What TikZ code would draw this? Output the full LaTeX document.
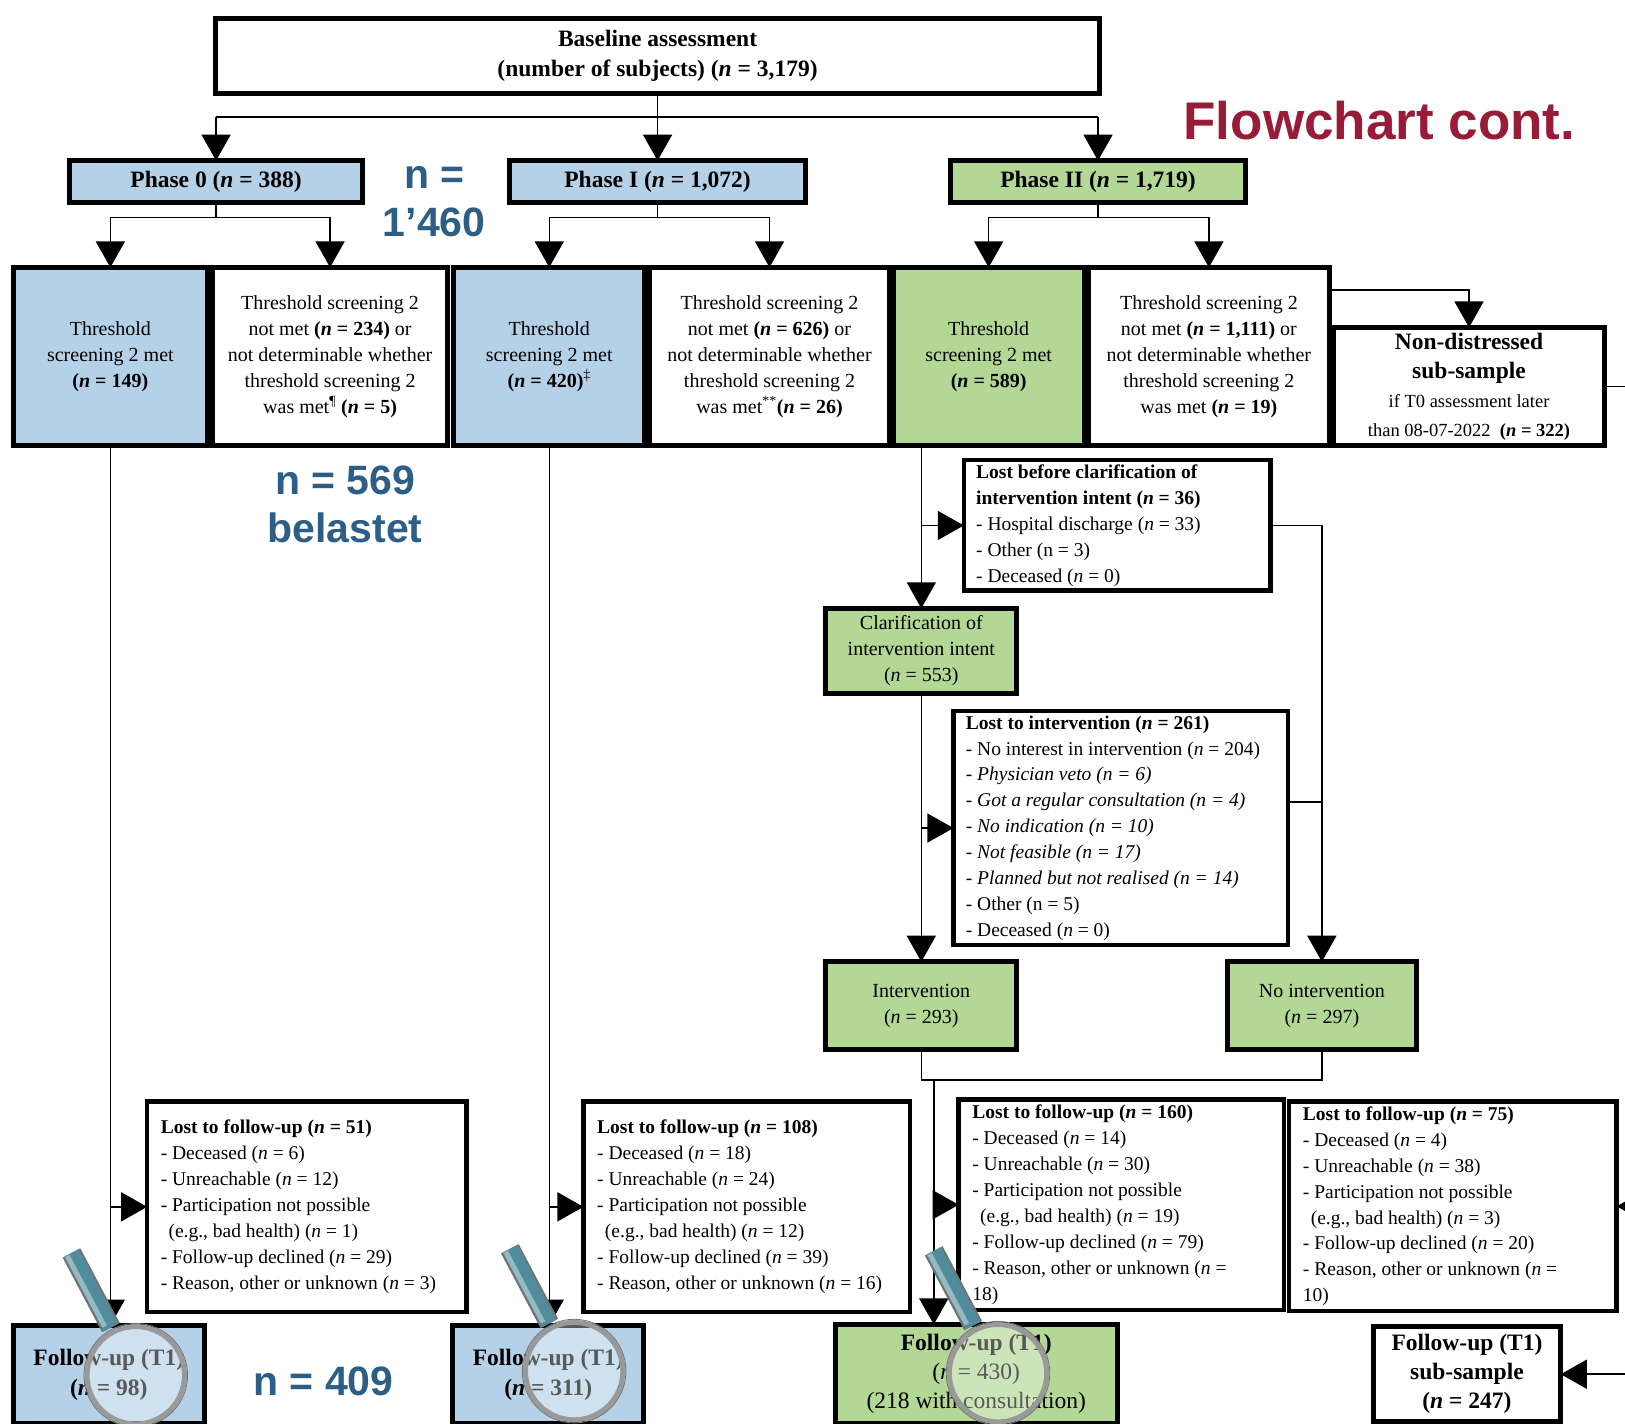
\documentclass[tikz,border=0pt]{standalone}
\usepackage{fontspec}
\setmainfont{Liberation Serif}
\newfontfamily\annfont{Liberation Sans}
\usetikzlibrary{arrows.meta}
\definecolor{boxblue}{RGB}{180,209,231}
\definecolor{boxgreen}{RGB}{179,215,148}
\definecolor{annblue}{RGB}{44,94,134}
\definecolor{annred}{RGB}{152,28,56}
\definecolor{handlecol}{RGB}{80,140,155}
\newcommand{\mglass}[2]{%
  \begin{scope}[shift={(#1,#2)}]
    \draw[line width=20pt, draw=black!55] (-24,-46) -- (-62,-118);
    \draw[line width=16pt, draw=handlecol] (-24,-46) -- (-62,-118);
    \draw[line width=5pt, draw=handlecol!60!white] (-30,-47) -- (-66,-115);
    \fill[white, opacity=0.35] (0,0) circle[radius=48];
    \draw[line width=5pt, draw=gray!80] (0,0) circle[radius=47];
    \draw[line width=0.8pt, draw=gray!90!black] (0,0) circle[radius=50];
  \end{scope}}
\begin{document}
\begin{tikzpicture}[x=1.03635pt, y=-1.03635pt,
  box/.style={draw, line width=5pt, inner sep=0pt, outer sep=0pt, align=center, font=\fontsize{20}{26}\selectfont},
  rect/.style n args={4}{at={({(#1+#3)/2},{(#2+#4)/2})}, minimum width={(#3-#1)*1.03635pt}, minimum height={(#4-#2)*1.03635pt}},
  head/.style={font=\bfseries\fontsize{23.5}{30}\selectfont},
  lost/.style={box, line width=4.5pt, align=flush left, font=\fontsize{19.5}{25.9}\selectfont},
  blue/.style={fill=boxblue},
  green/.style={fill=boxgreen},
  conn/.style={line width=1.5pt, draw=black},
  arr/.style={conn, -{Triangle[length=26pt,width=29pt]}},
  ann/.style={font=\annfont\bfseries\fontsize{41}{48}\selectfont, text=annblue, align=center}
]
\useasboundingbox (0,0) rectangle (1568,1374);

% top
\node[box, head, rect={208}{18}{1061}{90}] (BA) {Baseline assessment\\(number of subjects) (\textit{n} = 3,179)};
\node[box, head, blue, rect={67}{155}{350}{195}] (P0) {Phase 0 (\textit{n} = 388)};
\node[box, head, blue, rect={492}{155}{777}{195}] (P1) {Phase I (\textit{n} = 1,072)};
\node[box, head, green, rect={917}{155}{1202}{195}] (P2) {Phase II (\textit{n} = 1,719)};

% row
\node[box, blue, rect={13}{258}{200}{430}] (A0) {Threshold\\screening 2 met\\\textbf{(\textit{n} = 149)}};
\node[box, rect={205}{258}{432}{430}] (B0) {Threshold screening 2\\not met \textbf{(\textit{n} = 234)} or\\not determinable whether\\threshold screening 2\\was met\textsuperscript{\P} \textbf{(\textit{n} = 5)}};
\node[box, blue, rect={438}{258}{622}{430}] (A1) {Threshold\\screening 2 met\\\textbf{(\textit{n} = 420)}\textsuperscript{\ddag}};
\node[box, rect={627}{258}{858}{430}] (B1) {Threshold screening 2\\not met \textbf{(\textit{n} = 626)} or\\not determinable whether\\threshold screening 2\\was met\textsuperscript{**}\textbf{(\textit{n} = 26)}};
\node[box, green, rect={862}{258}{1046}{430}] (A2) {Threshold\\screening 2 met\\\textbf{(\textit{n} = 589)}};
\node[box, rect={1050}{258}{1283}{430}] (B2) {Threshold screening 2\\not met \textbf{(\textit{n} = 1,111)} or\\not determinable whether\\threshold screening 2\\was met \textbf{(\textit{n} = 19)}};
\node[box, rect={1287}{316}{1548}{430}, font=\bfseries\fontsize{23.5}{29}\selectfont] (ND) {Non-distressed\\sub-sample\\\mdseries\fontsize{18.5}{24}\selectfont if T0 assessment later\\\mdseries\fontsize{18.5}{24}\selectfont than 08-07-2022\ \ \bfseries(\textit{n} = 322)};

% phase II chain
\node[lost, text width=282pt, rect={930}{444}{1226}{570}] (LB) {\textbf{Lost before clarification of}\\\textbf{intervention intent (\textit{n} = 36)}\\- Hospital discharge (\textit{n} = 33)\\- Other (n = 3)\\- Deceased (\textit{n} = 0)};
\node[box, green, rect={797}{587}{981}{669}] (CL) {Clarification of\\intervention intent\\(\textit{n} = 553)};
\node[lost, text width=310pt, rect={920}{686}{1243}{912}] (LI) {\textbf{Lost to intervention (\textit{n} = 261)}\\- No interest in intervention (\textit{n} = 204)\\\textit{- Physician veto (n = 6)}\\\textit{- Got a regular consultation (n = 4)}\\\textit{- No indication (n = 10)}\\\textit{- Not feasible (n = 17)}\\\textit{- Planned but not realised (n = 14)}\\- Other (n = 5)\\- Deceased (\textit{n} = 0)};
\node[box, green, rect={797}{928}{981}{1013}] (INT) {Intervention\\(\textit{n} = 293)};
\node[box, green, rect={1184}{928}{1367}{1013}] (NOI) {No intervention\\(\textit{n} = 297)};

% bottom lost boxes
\node[lost, text width=292pt, rect={142}{1063}{450}{1266}] (L0) {\textbf{Lost to follow-up (\textit{n} = 51)}\\- Deceased (\textit{n} = 6)\\- Unreachable (\textit{n} = 12)\\- Participation not possible\\\hspace*{0.4em}(e.g., bad health) (\textit{n} = 1)\\- Follow-up declined (\textit{n} = 29)\\- Reason, other or unknown (\textit{n} = 3)};
\node[lost, text width=299pt, rect={563}{1063}{878}{1266}] (L1) {\textbf{Lost to follow-up (\textit{n} = 108)}\\- Deceased (\textit{n} = 18)\\- Unreachable (\textit{n} = 24)\\- Participation not possible\\\hspace*{0.4em}(e.g., bad health) (\textit{n} = 12)\\- Follow-up declined (\textit{n} = 39)\\- Reason, other or unknown (\textit{n} = 16)};
\node[lost, text width=298pt, rect={925}{1061}{1239}{1264}] (L2) {\textbf{Lost to follow-up (\textit{n} = 160)}\\- Deceased (\textit{n} = 14)\\- Unreachable (\textit{n} = 30)\\- Participation not possible\\\hspace*{0.4em}(e.g., bad health) (\textit{n} = 19)\\- Follow-up declined (\textit{n} = 79)\\- Reason, other or unknown (\textit{n} =\\18)};
\node[lost, text width=300pt, rect={1244}{1063}{1560}{1265}] (L3) {\textbf{Lost to follow-up (\textit{n} = 75)}\\- Deceased (\textit{n} = 4)\\- Unreachable (\textit{n} = 38)\\- Participation not possible\\\hspace*{0.4em}(e.g., bad health) (\textit{n} = 3)\\- Follow-up declined (\textit{n} = 20)\\- Reason, other or unknown (\textit{n} =\\10)};

% follow-up boxes
\node[box, head, blue, rect={13}{1279}{197}{1374}] (F0) {Follow-up (T1)\\(\textit{n} = 98)};
\node[box, head, blue, rect={437}{1279}{621}{1374}] (F1) {Follow-up (T1)\\(\textit{n} = 311)};
\node[box, green, rect={806}{1278}{1078}{1374}, font=\fontsize{23.5}{29}\selectfont] (F2) {\textbf{Follow-up (T1)}\\(\textit{n} = 430)\\(218 with consultation)};
\node[box, head, rect={1325}{1280}{1506}{1372}, font=\bfseries\fontsize{23.5}{29}\selectfont] (FS) {Follow-up (T1)\\sub-sample\\(\textit{n} = 247)};

% helper coordinates
\coordinate (bus) at (635,113);
\coordinate (ndy) at (0,280);
\coordinate (liy) at (1243,774);
\coordinate (mrg) at (901,1042);
\coordinate (edge) at (1568,0);

% connectors top
\draw[arr] (BA.south) -- (P1.north);
\draw[conn] (P0.north |- bus) -- (P2.north |- bus);
\draw[arr] (P0.north |- bus) -- (P0.north);
\draw[arr] (P2.north |- bus) -- (P2.north);
\draw[arr] (P0.south) -- ++(0,15) -| (A0.north);
\draw[arr] (P0.south) -- ++(0,15) -| (B0.north);
\draw[arr] (P1.south) -- ++(0,15) -| (A1.north);
\draw[arr] (P1.south) -- ++(0,15) -| (B1.north);
\draw[arr] (P2.south) -- ++(0,15) -| (A2.north);
\draw[arr] (P2.south) -- ++(0,15) -| (B2.north);
\draw[arr] (B2.east |- ndy) -| (ND.north);
\draw[conn] (ND.east) -- (ND.east -| edge);

% phase 0 and I
\draw[arr] (A0.south) -- (A0.south |- F0.north);
\draw[arr] (A0.south |- L0.west) -- (L0.west);
\draw[arr] (A1.south) -- (A1.south |- F1.north);
\draw[arr] (A1.south |- L1.west) -- (L1.west);

% phase II
\draw[arr] (A2.south -| CL.north) -- (CL.north);
\draw[arr] (CL.north |- LB.west) -- (LB.west);
\draw[arr] (CL.south) -- (INT.north);
\draw[arr] (CL.south |- LI.west) -- (LI.west);
\draw[arr] (LB.east) -| (NOI.north);
\draw[conn] (liy) -- (liy -| NOI.north);
\draw[conn] (INT.south) -- (INT.south |- mrg) -- (NOI.south |- mrg) -- (NOI.south);
\draw[arr] (mrg) -- (mrg |- F2.north);
\draw[arr] (mrg |- L2.west) -- (L2.west);
\draw[arr] (L3.east -| edge) -- (L3.east);
\draw[arr] (FS.east -| edge) -- (FS.east);

% magnifying glasses
\mglass{131}{1327}
\mglass{554}{1323}
\mglass{963}{1325}

% annotations
\node[ann] (n1460) at (419,195) {n =\\1’460};
\node[ann] (n569) at (333,487) {n = 569\\belastet};
\node[ann] (n409) at (312,1333) {n = 409};
\node[font=\annfont\bfseries\fontsize{53}{60}\selectfont, text=annred] (fc) at (1331,116) {Flowchart cont.};
\end{tikzpicture}
\end{document}
